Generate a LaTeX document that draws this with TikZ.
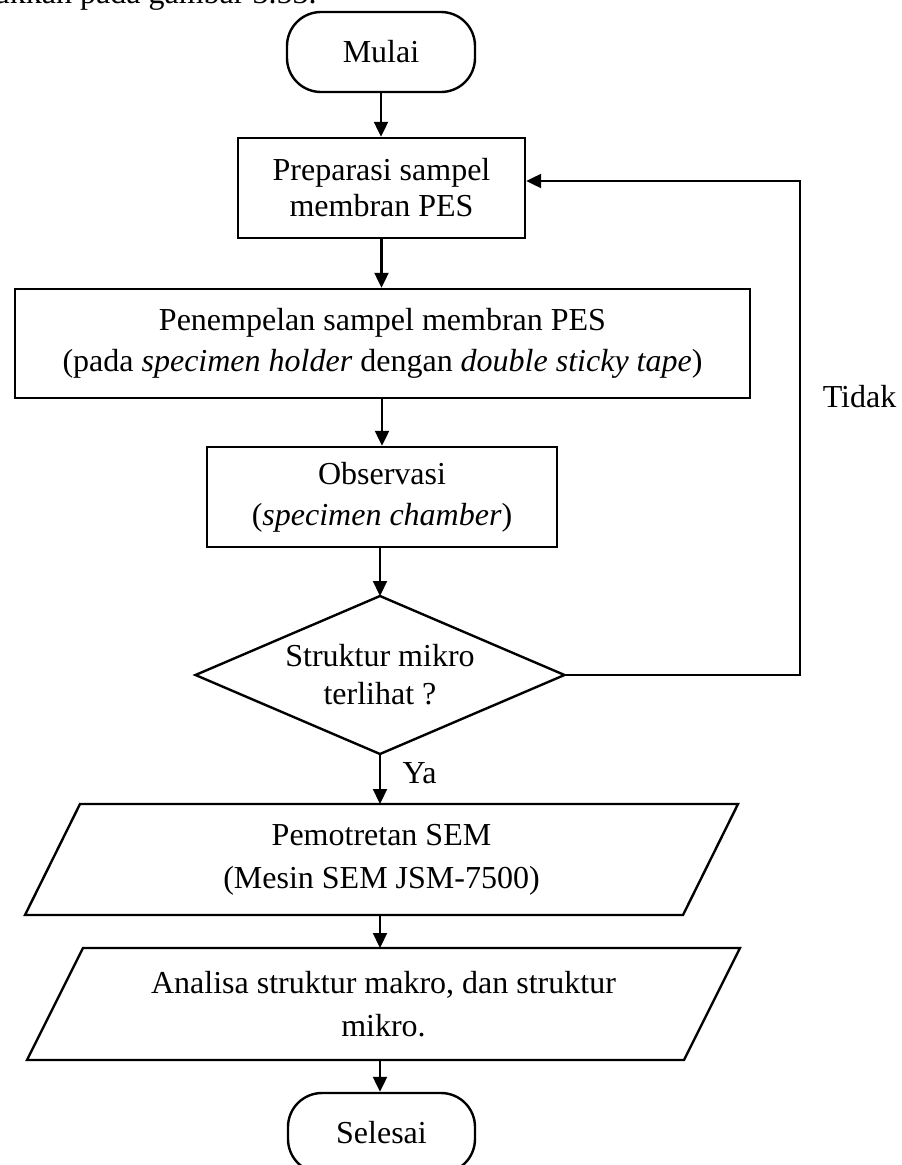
\documentclass[tikz,border=0pt]{standalone}
\usepackage{fontspec}
\setmainfont{Liberation Serif}
\usetikzlibrary{arrows.meta,calc}
\begin{document}
\begin{tikzpicture}[x=1pt,y=-1pt,
  every node/.style={font=\fontsize{32}{40}\selectfont},
  conn/.style={line width=2.2pt,-{Triangle[length=15pt,width=14pt]}},
  box/.style={draw,line width=2.4pt,inner sep=0pt,align=center},
  term/.style={box,rounded corners=34pt},
  ghost/.style={inner sep=0pt,outer sep=0pt,align=center},
  shp/.style={line width=2.4pt,line join=miter}
]
\useasboundingbox (0,0) rectangle (902,1165);
\clip (0,0) rectangle (902,1165);

% cut-off text line at the top
\node[anchor=base east] (prev) at (320,3) {ditunjukkan pada gambar 3.53.};

% nodes
\node[term,minimum width=188pt,minimum height=80pt] (start) at (381,52) {Mulai};
\node[box,minimum width=287pt,minimum height=100pt,font=\fontsize{32}{36}\selectfont] (prep) at (381.5,188) {Preparasi sampel\\membran PES};
\node[box,minimum width=735pt,minimum height=109pt,font=\fontsize{32}{41}\selectfont] (stick) at (382.5,343.5) {Penempelan sampel membran PES\\(pada \textit{specimen holder} dengan \textit{double sticky tape})};
\node[box,minimum width=350pt,minimum height=100pt,font=\fontsize{32}{41}\selectfont] (obs) at (382,497) {Observasi\\(\textit{specimen chamber})};
\node[ghost,minimum width=369pt,minimum height=158pt,font=\fontsize{32}{38}\selectfont] (dec) at (380,675) {Struktur mikro\\terlihat ?};
\draw[shp] (dec.north) -- (dec.east) -- (dec.south) -- (dec.west) -- cycle;
\node[ghost,minimum width=658pt,minimum height=111pt,font=\fontsize{32}{43}\selectfont] (sem) at (381.5,859.5) {Pemotretan SEM\\(Mesin SEM JSM-7500)};
\draw[shp] ($(sem.north west)+(27.5,0)$) -- ($(sem.north east)+(27.5,0)$) -- ($(sem.south east)+(-27.5,0)$) -- ($(sem.south west)+(-27.5,0)$) -- cycle;
\node[ghost,minimum width=657pt,minimum height=112pt,font=\fontsize{32}{43}\selectfont] (ana) at (383.5,1004) {Analisa struktur makro, dan struktur\\mikro.};
\draw[shp] ($(ana.north west)+(28,0)$) -- ($(ana.north east)+(28,0)$) -- ($(ana.south east)+(-28,0)$) -- ($(ana.south west)+(-28,0)$) -- cycle;
\node[term,minimum width=187pt,minimum height=80pt] (end) at (381.5,1133) {Selesai};

% connectors
\draw[conn] (start.south) -- (start.south |- prep.north);
\draw[conn] (prep.south) -- (prep.south |- stick.north);
\draw[conn] (obs.north |- stick.south) -- (obs.north);
\draw[conn] (dec.north |- obs.south) -- (dec.north);
\draw[conn] (dec.south) -- (dec.south |- sem.north);
\draw[conn] (dec.south |- sem.south) -- (dec.south |- ana.north);
\draw[conn] (dec.south |- ana.south) -- (dec.south |- end.north);
\coordinate (lp) at (800,181);
\draw[conn] (dec.east) -| (lp) -- (prep.east |- lp);

% labels
\node[anchor=base] (no) at (859.5,407) {Tidak};
\node[anchor=base west] (yes) at (399,783) {Ya};
\end{tikzpicture}
\end{document}
